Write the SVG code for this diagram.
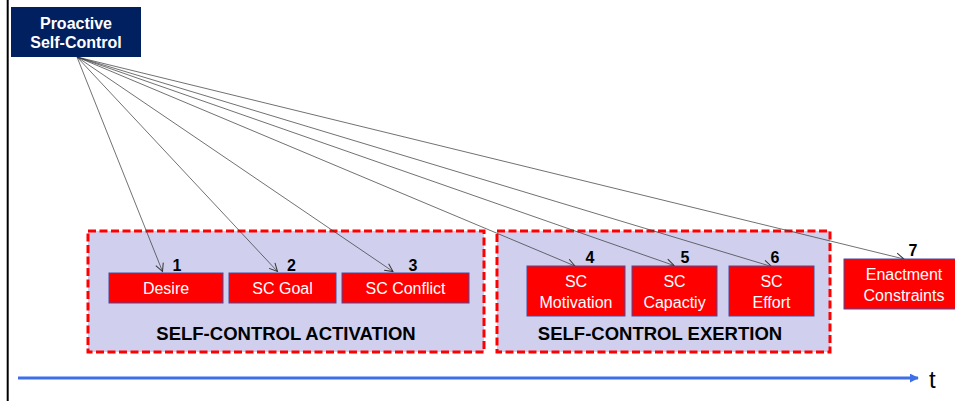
<svg xmlns="http://www.w3.org/2000/svg" width="955" height="401" viewBox="0 0 955 401">
  <defs>
    <marker id="open" viewBox="0 0 10 10" refX="9" refY="5" markerWidth="10" markerHeight="10" markerUnits="userSpaceOnUse" orient="auto">
      <path d="M1,1 L9,5 L1,9" fill="none" stroke="#333" stroke-width="1"/>
    </marker>
    <marker id="tip" viewBox="0 0 10 10" refX="9" refY="5" markerWidth="9" markerHeight="9" markerUnits="userSpaceOnUse" orient="auto">
      <path d="M0,0 L10,5 L0,10 Z" fill="#3F6FE8"/>
    </marker>
  </defs>
  <style>
    .phase { fill: #D0D0EE; stroke: #FF0000; stroke-width: 3; stroke-dasharray: 8 3.5; }
    .box { fill: #FF0000; stroke: #4B4BA0; stroke-width: 1; }
    .lbl { font-family: "Liberation Sans", Arial, sans-serif; font-size: 16px; fill: #FFFFFF; text-anchor: middle; }
    .num { font-family: "Liberation Sans", Arial, sans-serif; font-size: 16px; font-weight: bold; fill: #000; text-anchor: middle; }
    .phase-title { font-family: "Liberation Sans", Arial, sans-serif; font-size: 18.5px; font-weight: bold; fill: #000; text-anchor: middle; }
    .link { fill: none; stroke: #333; stroke-width: 0.7; marker-end: url(#open); }
  </style>

  <rect width="955" height="401" fill="#FFFFFF"/>

  <!-- vertical axis -->
  <line x1="7.7" y1="0" x2="7.7" y2="401" stroke="#000" stroke-width="2"/>

  <!-- time axis -->
  <g id="timeline">
    <line x1="18" y1="378" x2="918" y2="378" stroke="#3F6FE8" stroke-width="3" marker-end="url(#tip)"/>
    <text x="929" y="388" font-family="Liberation Sans, Arial, sans-serif" font-size="24" fill="#000">t</text>
  </g>

  <!-- phases -->
  <g id="phase-activation">
    <rect class="phase" x="88" y="231" width="396" height="121"/>
    <text class="phase-title" x="286" y="340">SELF-CONTROL ACTIVATION</text>
  </g>
  <g id="phase-exertion">
    <rect class="phase" x="497" y="231" width="333" height="121"/>
    <text class="phase-title" x="660" y="340">SELF-CONTROL EXERTION</text>
  </g>

  <!-- links from the proactive self-control node -->
  <g id="connectors">
    <line class="link" x1="77" y1="57" x2="162.5" y2="271.5"/>
    <line class="link" x1="77" y1="57" x2="277.5" y2="271.5"/>
    <line class="link" x1="77" y1="57" x2="393" y2="271.5"/>
    <line class="link" x1="77" y1="57" x2="575" y2="266"/>
    <line class="link" x1="77" y1="57" x2="674" y2="265.5"/>
    <line class="link" x1="77" y1="57" x2="771.5" y2="266.5"/>
    <line class="link" x1="77" y1="57" x2="904" y2="259"/>
  </g>

  <g id="proactive">
    <rect x="11" y="7" width="130" height="50" fill="#002060"/>
    <text x="76" y="28.5" font-family="Liberation Sans, Arial, sans-serif" font-size="16" font-weight="bold" fill="#FFFFFF" text-anchor="middle">Proactive</text>
    <text x="76" y="47.5" font-family="Liberation Sans, Arial, sans-serif" font-size="16" font-weight="bold" fill="#FFFFFF" text-anchor="middle">Self-Control</text>
  </g>

  <g id="desire">
    <rect class="box" x="109" y="273" width="114" height="30"/>
    <text class="lbl" x="166" y="294">Desire</text>
    <text class="num" x="177" y="271">1</text>
  </g>
  <g id="sc-goal">
    <rect class="box" x="229" y="273" width="107" height="30"/>
    <text class="lbl" x="282.5" y="294">SC Goal</text>
    <text class="num" x="291.5" y="271">2</text>
  </g>
  <g id="sc-conflict">
    <rect class="box" x="342" y="273" width="127" height="30"/>
    <text class="lbl" x="405.5" y="294">SC Conflict</text>
    <text class="num" x="413" y="271">3</text>
  </g>
  <g id="sc-motivation">
    <rect class="box" x="527" y="266" width="98" height="50"/>
    <text class="lbl" x="576" y="287">SC</text>
    <text class="lbl" x="576" y="307.5">Motivation</text>
    <text class="num" x="590" y="263">4</text>
  </g>
  <g id="sc-capacity">
    <rect class="box" x="632" y="266" width="85" height="50"/>
    <text class="lbl" x="674.5" y="287">SC</text>
    <text class="lbl" x="674.5" y="307.5">Capactiy</text>
    <text class="num" x="685" y="263">5</text>
  </g>
  <g id="sc-effort">
    <rect class="box" x="729" y="266" width="85" height="50"/>
    <text class="lbl" x="771.5" y="287">SC</text>
    <text class="lbl" x="771.5" y="307.5">Effort</text>
    <text class="num" x="775" y="263">6</text>
  </g>
  <g id="enactment">
    <rect class="box" x="844" y="259" width="120" height="50"/>
    <text class="lbl" x="904" y="280">Enactment</text>
    <text class="lbl" x="904" y="300.5">Constraints</text>
    <text class="num" x="913" y="256">7</text>
  </g>
</svg>
